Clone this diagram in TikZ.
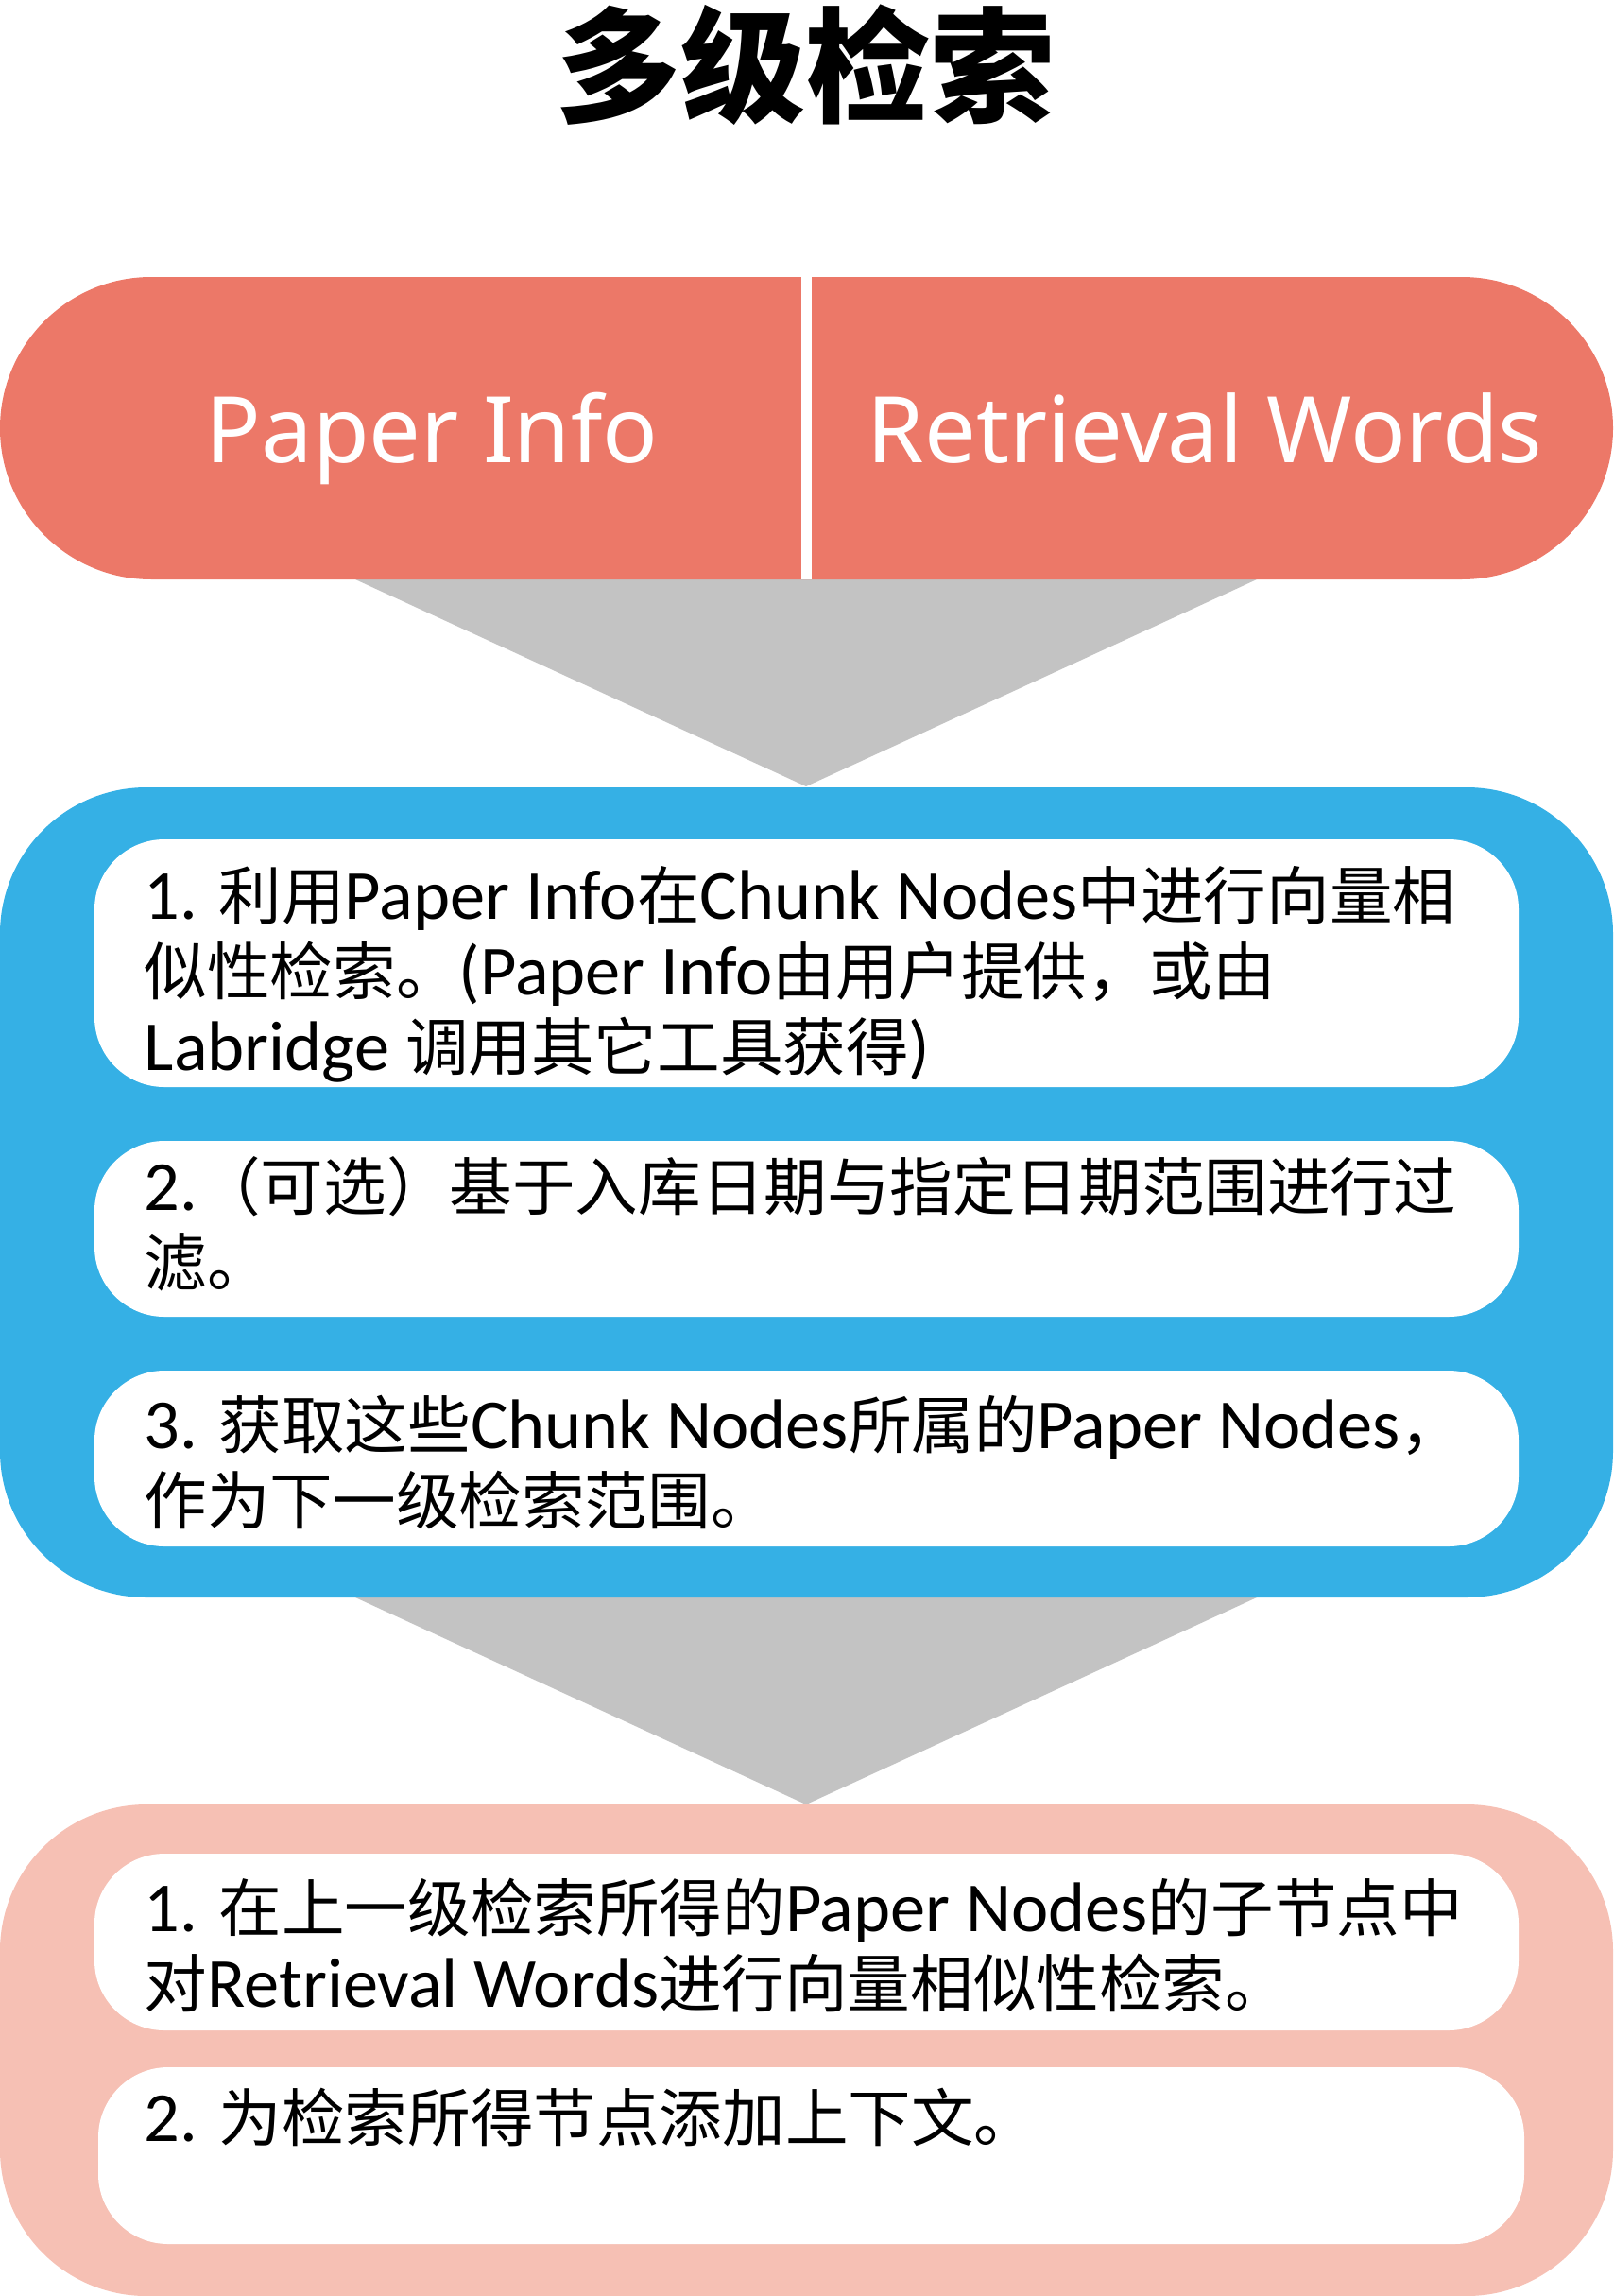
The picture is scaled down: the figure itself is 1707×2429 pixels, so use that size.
\documentclass[tikz,border=0pt]{standalone}
\usepackage{fontspec}
\setmainfont{Carlito}
\newfontfamily\cjk{Noto Sans CJK SC}[Scale=0.895]
\newfontfamily\cjktitle{Noto Sans CJK SC}
\newfontfamily\hdrfont{Noto Sans}
\usepackage{tikz}

\definecolor{hdrred}{HTML}{EC7868}
\definecolor{arrowgray}{HTML}{C3C3C3}
\definecolor{stageblue}{HTML}{35B0E5}
\definecolor{stagepink}{HTML}{F6C0B4}

\newcommand{\zh}[1]{{\cjk #1}}
\newcommand{\steptext}[1]{\parbox[t]{380pt}{#1}}

\tikzset{
    steptxt/.style={anchor=base west, inner sep=0pt, font=\fontsize{18.6pt}{20pt}\selectfont},
    hdrtxt/.style={anchor=base, inner sep=0pt, text=white, font=\hdrfont\fontsize{24.3pt}{28pt}\selectfont},
    card/.style={fill=white, rounded corners=18.5pt},
}

\begin{document}
\begin{tikzpicture}[x=0.25pt, y=-0.25pt]
    \useasboundingbox (0,0) rectangle (1707,2429);
    \node[anchor=base, inner sep=0pt, font=\cjktitle\bfseries\fontsize{33pt}{36pt}\selectfont] (title) at (852,120) {多级检索};

    % gray arrows between stages
    \fill[arrowgray] (376,613) -- (1330,613) -- (853,832) -- cycle;
    \fill[arrowgray] (376,1690) -- (1330,1690) -- (853,1909) -- cycle;

    % header
    \fill[hdrred, rounded corners=40pt] (0,293) rectangle (1707,613);
    \draw[white, line width=2.75pt] (853.5,293) -- (853.5,613);
    \node[hdrtxt] (paperinfo) at (457,489) {Paper Info};
    \node[hdrtxt] (retwords) at (1275,489) {Retrieval Words};

    % first stage
    \fill[stageblue, rounded corners=38.75pt] (0,833) rectangle (1707,1690);
    \fill[card] (100,888) rectangle (1607,1150);
    \fill[card] (100,1207) rectangle (1607,1393);
    \fill[card] (100,1450) rectangle (1607,1636);
    \node[steptxt] (chunkstep) at (152,972) {\steptext{1. \zh{利用}Paper Info\zh{在}Chunk Nodes\zh{中进行向量相}\\
        \zh{似性检索。}(Paper Info\zh{由用户提供，或由}\\
        Labridge \zh{调用其它工具获得})}};
    \node[steptxt] (datestep) at (152,1280) {\steptext{2.\zh{（可选）基于入库日期与指定日期范围进行过}\\
        \zh{滤。}}};
    \node[steptxt] (paperstep) at (152,1532) {\steptext{3. \zh{获取这些}Chunk Nodes\zh{所属的}Paper Nodes\zh{，}\\
        \zh{作为下一级检索范围。}}};

    % second stage
    \fill[stagepink, rounded corners=38.75pt] (0,1909) rectangle (1707,2429);
    \fill[card] (100,1961) rectangle (1607,2148);
    \fill[card] (104,2187) rectangle (1613,2374);
    \node[steptxt] (childstep) at (152,2043) {\steptext{1. \zh{在上一级检索所得的}Paper Nodes\zh{的子节点中}\\
        \zh{对}Retrieval Words\zh{进行向量相似性检索。}}};
    \node[steptxt] (ctxstep) at (152,2265) {\steptext{2. \zh{为检索所得节点添加上下文。}}};
\end{tikzpicture}
\end{document}
